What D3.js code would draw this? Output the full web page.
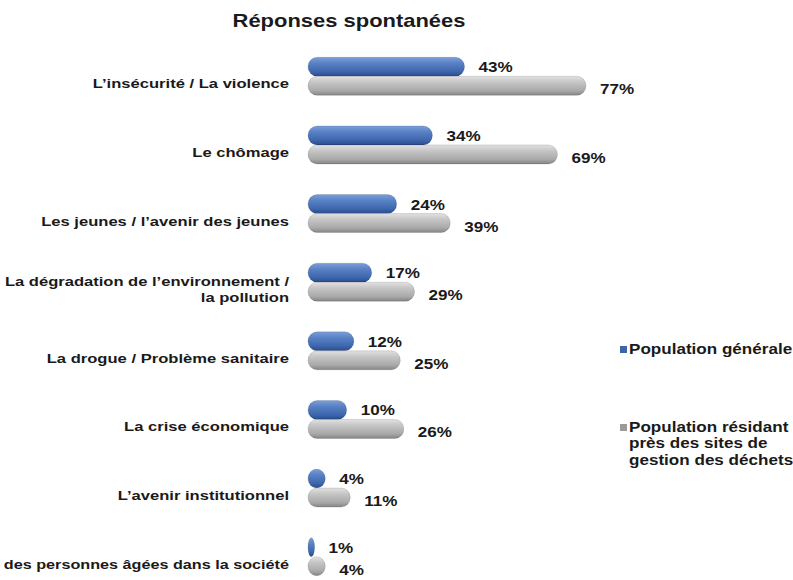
<!DOCTYPE html>
<html>
<head>
<meta charset="utf-8">
<script src="https://cdn.jsdelivr.net/npm/d3@7"></script>
<style>
  body { margin: 0; background: #fff; }
  text { font-family: "Liberation Sans", Arial, sans-serif; font-weight: bold; fill: #1a1a1a; }
</style>
</head>
<body>
<div id="chart"></div>
<script>
const WIDTH = 793, HEIGHT = 580;
const X0 = 308;          // where bars start
const BAR_H = 19;
const SX = 1.22;         // the original text is a bit stretched sideways

const categories = [
  ["L\u2019insécurité / La violence"],
  ["Le chômage"],
  ["Les jeunes / l\u2019avenir des jeunes"],
  ["La dégradation de l\u2019environnement /", "la pollution"],
  ["La drogue / Problème sanitaire"],
  ["La crise économique"],
  ["L\u2019avenir institutionnel"],
  ["des personnes âgées dans la société"]
];
const generale = [43, 34, 24, 17, 12, 10, 4, 1];
const residant = [77, 69, 39, 29, 25, 26, 11, 4];
const seriesNames = [["Population générale"], ["Population résidant", "près des sites de", "gestion des déchets"]];

const svg = d3.select('#chart').append('svg')
  .attr('width', WIDTH).attr('height', HEIGHT);

// cylinder-ish gradients
const defs = svg.append('defs');
function grad(id, stops) {
  const g = defs.append('linearGradient').attr('id', id)
    .attr('x1', 0).attr('y1', 0).attr('x2', 0).attr('y2', 1);
  stops.forEach(s => g.append('stop').attr('offset', s[0]).attr('stop-color', s[1]));
}
grad('gBlue', [[0, '#7a9fd8'], [0.3, '#5a82c6'], [0.75, '#3d66ad'], [1, '#2a4c8a']]);
grad('gGray', [[0, '#e2e2e2'], [0.3, '#c6c6c6'], [0.75, '#a9a9a9'], [1, '#858585']]);

const x = d3.scaleLinear().domain([0, 77]).range([0, 275]);
const y = d3.scaleBand().domain(d3.range(categories.length)).range([42, 591]).padding(0);

svg.append('text')
  .attr('transform', `translate(349, 27) scale(${SX},1)`)
  .attr('text-anchor', 'middle')
  .style('font-size', '18px')
  .text('Réponses spontanées');

const rows = svg.selectAll('.row').data(categories).enter()
  .append('g').classed('row', true)
  .attr('transform', (d, i) => `translate(0, ${y(i) + y.bandwidth() / 2})`);

// category labels
const catLabels = rows.append('text')
  .attr('transform', `translate(289, 0) scale(${SX},1)`)
  .attr('text-anchor', 'end')
  .style('font-size', '13.6px');
catLabels.selectAll('tspan').data(d => d.map((t, j) => ({t, j, n: d.length}))).enter()
  .append('tspan')
  .attr('x', 0)
  .attr('y', d => 12 - (d.n - 1) * 8 + d.j * 16)
  .text(d => d.t);

// shrink a label a little if it would run off the left edge
catLabels.each(function() {
  const w = this.getBBox().width * SX;
  if (w > 285) d3.select(this).style('font-size', (13.6 * 285 / w).toFixed(2) + 'px');
});

function barW(v) { return x(v) + 3; }

function drawBars(vals, yOff, fill, labelDy) {
  rows.append('rect')
    .attr('x', X0)
    .attr('y', yOff)
    .attr('width', (d, i) => barW(vals[i]))
    .attr('height', BAR_H)
    .attr('rx', (d, i) => Math.min(barW(vals[i]) / 2, 9))
    .attr('ry', 9.5)
    .attr('fill', fill)
    .attr('stroke', 'rgba(0,0,0,0.18)')
    .attr('stroke-width', 0.7);
  rows.append('text')
    .attr('transform', (d, i) => `translate(${X0 + barW(vals[i]) + 14}, ${labelDy}) scale(${SX},1)`)
    .style('font-size', '14px')
    .text((d, i) => vals[i] + '%');
}
drawBars(generale, -BAR_H, 'url(#gBlue)', -4);
drawBars(residant, 0, 'url(#gGray)', 18);

// legend
const legend = svg.append('g');
const legendItems = [
  {y: 354, color: '#3f65a8', lines: seriesNames[0]},
  {y: 432, color: '#9a9a9a', lines: seriesNames[1]}
];
legendItems.forEach(it => {
  legend.append('rect').attr('x', 620).attr('y', it.y - 8).attr('width', 7).attr('height', 7).attr('fill', it.color);
  legend.append('text')
    .attr('transform', `translate(629, ${it.y}) scale(${SX},1)`)
    .style('font-size', '14px')
    .selectAll('tspan').data(it.lines).enter().append('tspan')
    .attr('x', 0).attr('y', (d, i) => i * 16.5)
    .text(d => d);
});
</script>
</body>
</html>
